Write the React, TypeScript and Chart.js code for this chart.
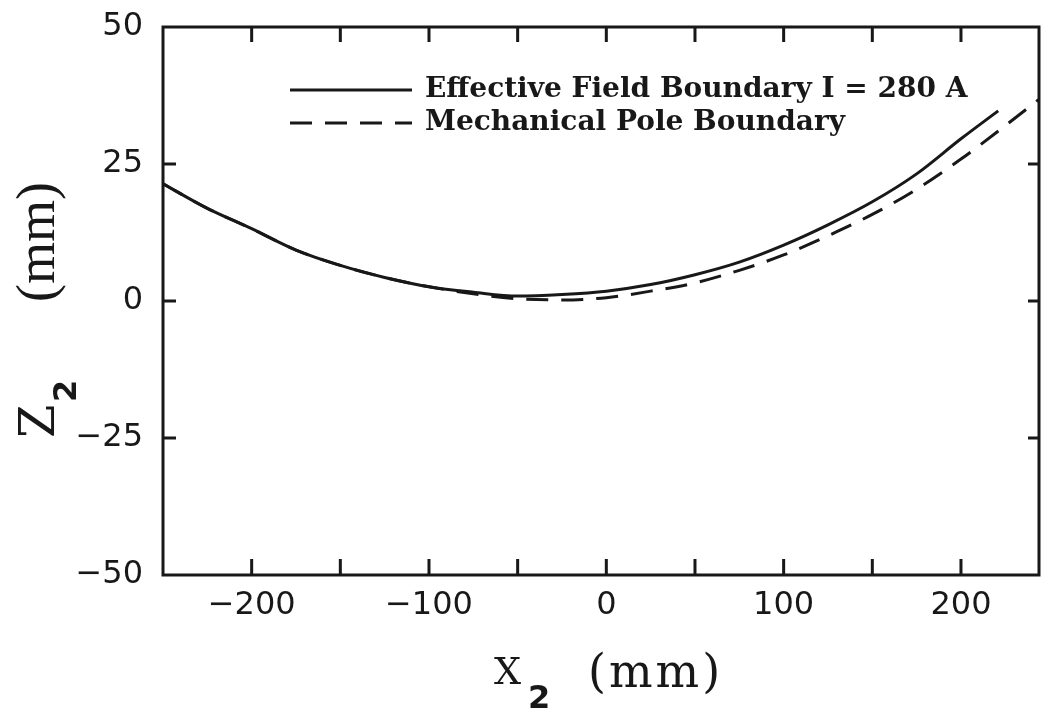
import React, { useEffect, useRef } from 'react';
import { Chart, registerables } from 'chart.js';
Chart.register(...registerables);

// Effective field boundary, I = 280 A
const effX = [-250, -225, -200, -175, -150, -125, -100, -75, -50, -25, 0, 25, 50, 75, 100, 125, 150, 175, 200, 221];
const effZ = [21.4, 16.9, 13.2, 9.3, 6.5, 4.3, 2.6, 1.6, 0.9, 1.2, 1.8, 3.0, 4.8, 7.1, 10.2, 13.9, 18.1, 23.2, 29.6, 34.7];
// Mechanical pole boundary
const mechX = [-250, -225, -200, -175, -150, -125, -100, -75, -50, -25, 0, 25, 50, 75, 100, 125, 150, 175, 200, 225, 244];
const mechZ = [21.4, 16.9, 13.2, 9.3, 6.5, 4.3, 2.6, 1.3, 0.4, 0.2, 0.6, 1.8, 3.3, 5.6, 8.4, 11.9, 15.8, 20.4, 25.9, 32.0, 36.8];

const xTickMarks = [-200, -150, -100, -50, 0, 50, 100, 150, 200];
const xTickLabels = [-200, -100, 0, 100, 200];
const yTickMarks = [-25, 0, 25];
const yTickLabels = [-50, -25, 0, 25, 50];
const seriesLabels = ['Effective Field Boundary I = 280 A', 'Mechanical Pole Boundary'];
const xTitle = ['X', '2', '(mm)'];
const yTitle = ['Z', '2', '(mm)'];

const INK = '#181818';
const fmt = (v: number) => (v < 0 ? '\u2212' + Math.abs(v) : String(v));

const decor = {
  id: 'decor',
  afterDraw(chart: any) {
    const { ctx, chartArea: a, scales } = chart;
    const xs = scales.x, ys = scales.y;
    ctx.save();
    ctx.strokeStyle = INK;
    ctx.lineWidth = 3;
    ctx.lineCap = 'butt';
    ctx.strokeRect(a.left, a.top, a.right - a.left, a.bottom - a.top);
    ctx.beginPath();
    for (const v of xTickMarks) {
      const p = xs.getPixelForValue(v);
      ctx.moveTo(p, a.bottom); ctx.lineTo(p, a.bottom - 16);
      ctx.moveTo(p, a.top); ctx.lineTo(p, a.top + 15);
    }
    for (const v of yTickMarks) {
      const p = ys.getPixelForValue(v);
      ctx.moveTo(a.left, p); ctx.lineTo(a.left + 13, p);
      ctx.moveTo(a.right, p); ctx.lineTo(a.right - 11, p);
    }
    ctx.stroke();

    // legend
    const ds = chart.data.datasets;
    const lx0 = 290, lx1 = 412, tx = 425;
    const rows = [90, 123];
    ctx.font = 'bold 28px "DejaVu Serif"';
    ctx.fillStyle = INK;
    ctx.textBaseline = 'middle';
    ctx.textAlign = 'left';
    ds.forEach((d: any, i: number) => {
      ctx.beginPath();
      ctx.lineWidth = 3;
      ctx.setLineDash(d.borderDash || []);
      ctx.moveTo(lx0, rows[i]);
      ctx.lineTo(lx1, rows[i]);
      ctx.stroke();
      ctx.setLineDash([]);
      ctx.fillText(d.label, tx, rows[i]);
    });

    // x title
    ctx.textBaseline = 'alphabetic';
    ctx.font = '38px "DejaVu Serif"';
    ctx.fillText(xTitle[0], 494, 684);
    ctx.font = 'bold 32px "DejaVu Sans"';
    ctx.fillText(xTitle[1], 528, 708);
    ctx.font = '46px "DejaVu Serif"';
    (ctx as any).letterSpacing = '3px';
    ctx.fillText(xTitle[2], 588, 687);
    (ctx as any).letterSpacing = '0px';

    // y title (rotated)
    ctx.translate(54, 438);
    ctx.rotate(-Math.PI / 2);
    ctx.font = '48px "DejaVu Serif"';
    ctx.fillText(yTitle[0], 0, 0);
    ctx.font = 'bold 32px "DejaVu Sans"';
    ctx.fillText(yTitle[1], 36, 22);
    ctx.font = '54px "Liberation Serif"';
    ctx.fillText(yTitle[2], 136, 0);
    ctx.restore();
  },
};

export default function App() {
  const ref = useRef<HTMLCanvasElement>(null);
  useEffect(() => {
    if (!ref.current) return;
    const chart = new Chart(ref.current, {
      type: 'line',
      data: {
        datasets: [
          {
            label: seriesLabels[0],
            data: effX.map((x, i) => ({ x, y: effZ[i] })),
            borderColor: INK,
            borderWidth: 3,
            pointRadius: 0,
            cubicInterpolationMode: 'monotone',
            fill: false,
          },
          {
            label: seriesLabels[1],
            data: mechX.map((x, i) => ({ x, y: mechZ[i] })),
            borderColor: INK,
            borderWidth: 3,
            borderDash: [22, 13],
            pointRadius: 0,
            cubicInterpolationMode: 'monotone',
            fill: false,
          },
        ],
      },
      options: {
        animation: false,
        responsive: true,
        maintainAspectRatio: false,
        layout: { padding: { top: 27, right: 5, left: 0, bottom: 0 } },
        plugins: { legend: { display: false }, tooltip: { enabled: false } },
        scales: {
          x: {
            type: 'linear',
            min: -250,
            max: 244,
            grid: { display: false, drawTicks: false },
            border: { display: false },
            afterBuildTicks: (s: any) => {
              s.ticks = xTickLabels.map((v) => ({ value: v }));
            },
            afterFit: (s: any) => {
              s.height = 138;
              s.paddingLeft = 0;
              s.paddingRight = 0;
            },
            ticks: {
              autoSkip: false,
              maxRotation: 0,
              padding: 11,
              color: INK,
              font: { family: '"DejaVu Sans"', size: 32 },
              callback: (v: any) => fmt(Number(v)),
            },
          },
          y: {
            type: 'linear',
            min: -50,
            max: 50,
            grid: { display: false, drawTicks: false },
            border: { display: false },
            afterBuildTicks: (s: any) => {
              s.ticks = yTickLabels.map((v) => ({ value: v }));
            },
            afterFit: (s: any) => {
              s.width = 163;
              s.paddingTop = 0;
              s.paddingBottom = 0;
            },
            ticks: {
              padding: 20,
              color: INK,
              font: { family: '"DejaVu Sans"', size: 32 },
              callback: (v: any) => fmt(Number(v)),
            },
          },
        },
      },
      plugins: [decor],
    });
    return () => chart.destroy();
  }, []);
  return (
    <div style={{ position: 'fixed', left: 0, top: 0, width: 1044, height: 713, background: '#fff' }}>
      <canvas ref={ref} />
    </div>
  );
}
